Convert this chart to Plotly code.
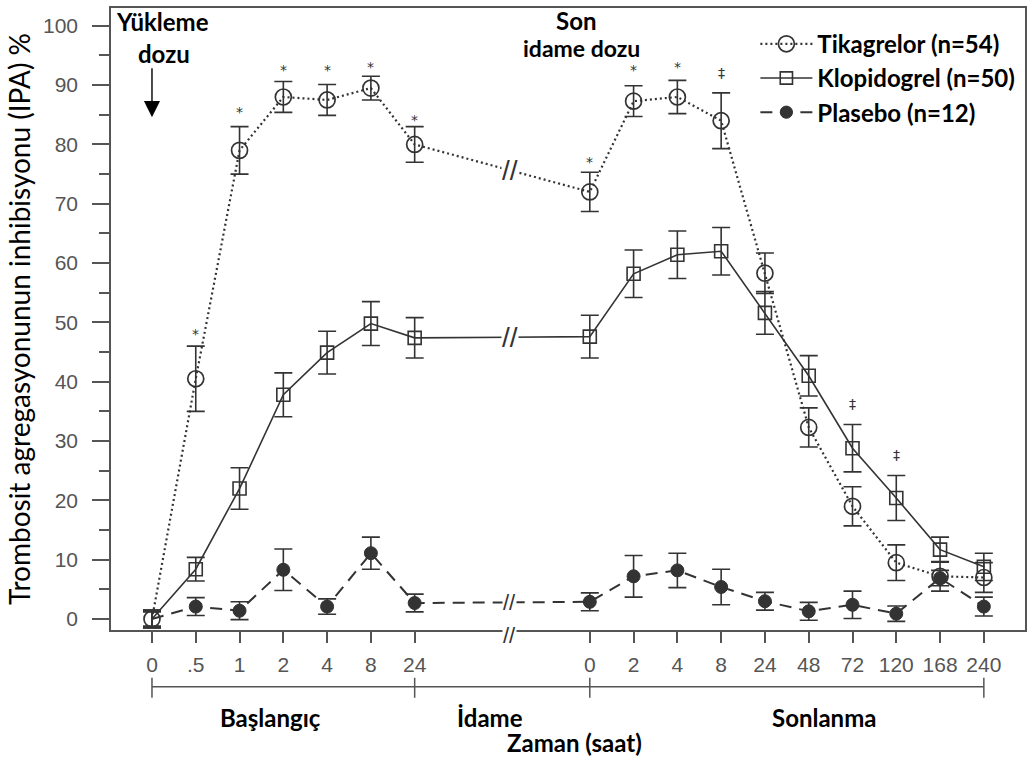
import numpy as np
import plotly.graph_objects as go

# ---------------- data ----------------
phase1_labels = ["0", ".5", "1", "2", "4", "8", "24"]
phase2_labels = ["0", "2", "4", "8", "24", "48", "72", "120", "168", "240"]
gap_units = 4  # space left for the axis break between the two phases

tika = [0, 40.5, 79, 88, 87.5, 89.5, 80,
        72, 87.3, 88, 84, 58.3, 32.3, 19, 9.5, 7.2, 7]
tika_err = [1.5, 5.5, 4, 2.6, 2.6, 2.0, 3,
            3.3, 2.6, 2.8, 4.7, 3.4, 3.3, 3.3, 3.0, 2.5, 2.5]

klop = [0, 8.4, 22, 37.8, 44.9, 49.8, 47.4,
        47.6, 58.2, 61.4, 62, 51.6, 41, 28.8, 20.4, 11.7, 8.8]
klop_err = [1.5, 2.0, 3.5, 3.7, 3.6, 3.7, 3.4,
            3.6, 4.0, 4.0, 4.0, 3.6, 3.4, 4.0, 3.8, 2.1, 2.3]

plas = [0, 2.1, 1.4, 8.3, 2.1, 11.1, 2.7,
        2.9, 7.2, 8.2, 5.4, 3.0, 1.3, 2.4, 0.9, 6.9, 2.1]
plas_err = [1.2, 1.5, 1.5, 3.5, 1.3, 2.7, 1.5,
            1.5, 3.5, 2.9, 3.0, 1.5, 1.5, 2.3, 1.3, 1.3, 1.6]

# significance marks: (category index, y level, symbol)
sig_idx = [1, 2, 3, 4, 5, 6, 7, 8, 9, 10, 13, 14]
sig_y = [48, 85.5, 92.5, 92.5, 93, 84.2, 77, 92.5, 93, 92, 36.3, 27.6]
sig_sym = ["*", "*", "*", "*", "*", "*", "*", "*", "*", "‡", "‡", "‡"]

# ---------------- positions along the x axis ----------------
x_pos = list(range(len(phase1_labels))) + \
    [len(phase1_labels) - 1 + gap_units + i for i in range(len(phase2_labels))]
x_labels = phase1_labels + phase2_labels
break_x = x_pos[len(phase1_labels) - 1] + 2.17

INK = "#333333"
AX = "#555555"
BOLD = "Lato"

fig = go.Figure()


def add_series(y, err, name, symbol, msize, dash, lw, mline, hide_first):
    sizes = [msize] * len(y)
    if hide_first:
        sizes[0] = 0
    fig.add_trace(go.Scatter(
        x=x_pos, y=y, name=name, mode="lines+markers",
        line=dict(color=INK, width=lw, dash=dash),
        marker=dict(symbol=symbol, size=sizes, color=INK, opacity=1,
                    line=dict(color=INK, width=mline)),
        error_y=dict(type="data", array=err, visible=True,
                     color=INK, thickness=1.6, width=9),
    ))


add_series(tika, tika_err, "Tikagrelor (n=54)", "circle-open", 16, "2px,3px", 2.2, 1.7, False)
add_series(klop, klop_err, "Klopidogrel (n=50)", "square-open", 13, "solid", 1.6, 1.6, True)
add_series(plas, plas_err, "Plasebo (n=12)", "circle", 13, "12px,8px", 2, 1, True)

annotations = []

# significance symbols
for xi, yv, s in zip(sig_idx, sig_y, sig_sym):
    annotations.append(dict(x=x_pos[xi], y=yv, text=s, showarrow=False,
                            font=dict(family="DejaVu Sans", size=14, color="#333333")))

# axis-break marks on each series line and on the bottom axis
for series, fs in ((tika, 28), (klop, 28), (plas, 22)):
    yb = float(np.interp(break_x, [x_pos[6], x_pos[7]], [series[6], series[7]]))
    annotations.append(dict(x=break_x, y=yb, text="//", showarrow=False,
                            bgcolor="white", borderpad=0,
                            font=dict(family="Liberation Sans", size=fs, color=INK)))
annotations.append(dict(x=break_x, y=-0.03, yref="paper", text="//", showarrow=False,
                        bgcolor="white", borderpad=0,
                        font=dict(family="Liberation Sans", size=22, color=INK)))

# dose annotations
annotations += [
    dict(x=0.23, y=100.7, text="<b>Yükleme</b>", showarrow=False,
         font=dict(family=BOLD, size=24, color="black")),
    dict(x=0.27, y=95.3, text="<b>dozu</b>", showarrow=False,
         font=dict(family=BOLD, size=24, color="black")),
    dict(x=x_pos[0], y=84.6, xref="x", yref="y", axref="pixel", ayref="pixel",
         ax=0, ay=-50, text=" ", font=dict(size=1), borderpad=0,
         showarrow=True, arrowhead=2,
         arrowsize=2.3, arrowwidth=1.4, arrowcolor="black", standoff=0, startstandoff=0),
    dict(x=9.68, y=100.9, text="<b>Son</b>", showarrow=False,
         font=dict(family=BOLD, size=24, color="black")),
    dict(x=9.8, y=96.3, text="<b>idame dozu</b>", showarrow=False,
         font=dict(family=BOLD, size=23, color="black")),
]

# phase brackets below the axis
y_line, y_t0, y_t1 = -0.0913, -0.0769, -0.109
bounds = [x_pos[0], x_pos[6], x_pos[7], x_pos[-1]]
shapes = [dict(type="line", xref="x", yref="paper", x0=bounds[0], x1=bounds[-1],
               y0=y_line, y1=y_line, line=dict(color=AX, width=1.5))]
for b in bounds:
    shapes.append(dict(type="line", xref="x", yref="paper", x0=b, x1=b,
                       y0=y_t0, y1=y_t1, line=dict(color=AX, width=1.5)))

for txt, xc in [("Başlangıç", 2.7), ("İdame", 7.72), ("Sonlanma", 15.35)]:
    annotations.append(dict(x=xc, y=-0.168, yref="paper", text=f"<b>{txt}</b>",
                            showarrow=False, font=dict(family=BOLD, size=24, color="black")))
annotations.append(dict(x=9.64, y=-0.207, yref="paper", text="<b>Zaman (saat)</b>",
                        showarrow=False, font=dict(family=BOLD, size=24, color="black")))

fig.update_layout(
    width=1035, height=769,
    margin=dict(l=111, r=10, t=6, b=139),
    paper_bgcolor="white", plot_bgcolor="white",
    showlegend=True,
    legend=dict(x=0.705, y=0.978, xanchor="left", yanchor="top",
                font=dict(family=BOLD, size=24, color="black", weight="bold"),
                itemwidth=52, bgcolor="rgba(0,0,0,0)", tracegroupgap=0),
    annotations=annotations,
    shapes=shapes,
)

fig.update_xaxes(
    range=[-0.936, 19.94], tickmode="array", tickvals=x_pos, ticktext=x_labels,
    ticks="outside", ticklen=11, tickwidth=1.5, tickcolor=AX,
    showline=True, mirror=True, linecolor=AX, linewidth=1.5,
    showgrid=False, zeroline=False, ticklabelstandoff=4,
    tickfont=dict(family="Liberation Sans", size=21, color=AX),
)
fig.update_yaxes(
    range=[-1.85, 103], tickmode="array", tickvals=list(range(0, 101, 10)),
    ticks="outside", ticklen=17, tickwidth=1.5, tickcolor=AX,
    minor=dict(dtick=5, ticks="outside", ticklen=10, tickwidth=1.5, tickcolor=AX),
    showline=True, mirror=True, linecolor=AX, linewidth=1.5,
    showgrid=False, zeroline=False, ticklabelstandoff=10,
    tickfont=dict(family="Liberation Sans", size=21, color=AX),
    title=dict(text="Trombosit agregasyonunun inhibisyonu (IPA) %", standoff=4,
               font=dict(family="Lato", size=28, color="black")),
)

fig.write_html("out.html")
